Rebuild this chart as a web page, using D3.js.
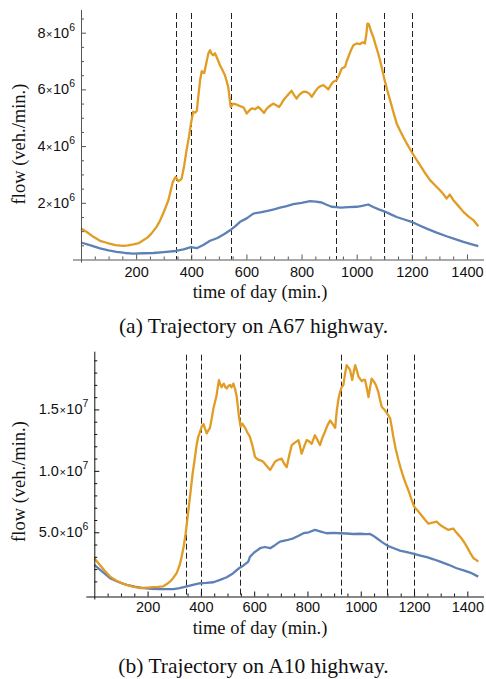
<!DOCTYPE html>
<html>
<head>
<meta charset="utf-8">
<script src="https://cdn.jsdelivr.net/npm/d3@7"></script>
<style>
  html, body { margin: 0; padding: 0; background: #fff; }
  svg { display: block; }
  .tick text { font-family: "Liberation Sans", Arial, sans-serif; }
</style>
</head>
<body>
<svg id="chart" width="486" height="679"></svg>
<script>
// ---- data (flow in millions of vehicles per minute, time in minutes) ----
const a67Total = [
  [0,1.09],[21,0.97],[45,0.80],[69,0.66],[93,0.59],[125,0.51],[153,0.48],[170,0.50],[190,0.53],
  [210,0.58],[226,0.68],[242,0.78],[256,0.92],[274,1.15],[286,1.36],[298,1.62],[317,2.09],[333,2.74],
  [343,2.91],[353,2.76],[360,2.80],[365,2.86],[374,3.30],[383,3.86],[392,4.35],[399,4.80],[407,5.21],
  [414,5.18],[420,5.24],[426,5.80],[432,6.32],[438,6.64],[447,6.58],[455,6.95],[462,7.27],[468,7.38],
  [474,7.25],[480,7.20],[486,7.28],[492,7.14],[498,7.00],[504,6.85],[512,6.70],[522,6.50],[528,6.30],
  [534,6.09],[540,5.60],[543,5.38],[552,5.50],[565,5.46],[577,5.41],[590,5.36],[601,5.15],[610,5.25],
  [619,5.33],[631,5.30],[643,5.38],[654,5.28],[664,5.17],[672,5.30],[680,5.38],[690,5.45],[697,5.50],
  [708,5.44],[719,5.38],[727,5.50],[734,5.62],[748,5.78],[764,5.95],[773,5.80],[782,5.68],[791,5.80],
  [800,5.88],[809,5.92],[818,5.91],[828,5.85],[837,5.74],[849,5.92],[861,6.07],[870,6.12],[879,6.15],
  [888,6.08],[897,6.00],[906,6.15],[915,6.27],[927,6.32],[936,6.50],[946,6.74],[958,6.80],[964,7.00],
  [970,7.15],[980,7.40],[988,7.56],[1000,7.62],[1012,7.60],[1022,7.66],[1030,7.62],[1035,7.95],
  [1039,8.32],[1044,8.30],[1052,8.05],[1060,7.85],[1069,7.55],[1078,7.27],[1089,6.85],[1100,6.38],
  [1110,6.00],[1121,5.62],[1133,5.20],[1145,4.80],[1157,4.55],[1169,4.32],[1184,4.05],[1199,3.80],
  [1215,3.55],[1230,3.33],[1248,3.05],[1266,2.80],[1284,2.62],[1302,2.44],[1315,2.30],[1326,2.15],
  [1338,2.29],[1350,2.10],[1368,1.90],[1387,1.68],[1405,1.52],[1423,1.39],[1441,1.17]
];
const a67Base = [
  [0,0.60],[35,0.50],[69,0.39],[100,0.32],[129,0.27],[160,0.23],[190,0.21],[226,0.22],[262,0.23],
  [300,0.26],[343,0.30],[372,0.36],[399,0.44],[420,0.40],[445,0.52],[468,0.66],[495,0.76],[520,0.90],
  [545,1.06],[560,1.18],[577,1.33],[601,1.45],[625,1.62],[650,1.66],[673,1.71],[700,1.77],[722,1.83],
  [746,1.88],[770,1.95],[800,2.00],[831,2.06],[852,2.04],[873,2.01],[891,1.93],[909,1.86],[926,1.85],
  [943,1.83],[970,1.85],[1000,1.86],[1020,1.89],[1042,1.94],[1060,1.85],[1080,1.77],[1100,1.70],
  [1122,1.60],[1145,1.50],[1170,1.42],[1199,1.33],[1226,1.21],[1254,1.09],[1290,0.95],[1326,0.82],
  [1357,0.72],[1387,0.62],[1415,0.54],[1441,0.47]
];
const a10Total = [
  [0,2.89],[21,2.34],[40,1.85],[59,1.39],[84,1.05],[109,0.80],[140,0.60],[172,0.45],[200,0.50],
  [221,0.53],[240,0.55],[259,0.60],[272,0.78],[284,0.98],[297,1.30],[309,1.67],[320,2.30],[328,3.02],
  [336,3.90],[343,4.92],[351,6.40],[359,7.89],[368,9.60],[378,11.15],[384,12.10],[390,12.77],
  [397,13.20],[403,13.59],[410,13.80],[416,13.40],[422,13.05],[428,13.30],[434,13.50],[441,14.30],
  [447,15.08],[453,15.60],[459,16.16],[464,16.90],[468,17.38],[473,17.00],[478,16.80],[482,17.00],
  [486,17.10],[492,16.80],[497,16.71],[503,16.90],[509,17.00],[515,16.80],[522,17.10],[528,16.70],
  [534,16.10],[539,15.20],[543,14.40],[549,13.60],[555,13.86],[566,13.50],[575,13.10],[584,12.77],
  [594,12.00],[603,11.15],[609,11.00],[616,10.90],[625,10.85],[634,10.74],[647,10.40],[660,10.07],
  [669,10.40],[678,10.74],[690,10.90],[703,11.00],[712,10.60],[722,10.30],[731,11.20],[741,12.10],
  [753,12.30],[766,12.50],[772,12.00],[778,11.40],[788,12.00],[797,12.50],[806,12.40],[816,12.20],
  [828,12.90],[838,12.50],[847,12.10],[856,12.70],[866,13.20],[875,13.70],[885,14.10],[895,13.80],
  [904,13.50],[910,14.90],[916,15.80],[922,16.40],[928,16.80],[935,17.00],[941,17.90],[947,18.60],
  [954,18.40],[960,18.20],[968,17.40],[974,18.10],[979,18.60],[985,18.20],[991,17.70],[997,17.50],
  [1004,17.30],[1010,17.40],[1016,17.40],[1022,16.80],[1029,16.00],[1035,16.80],[1041,17.50],
  [1048,17.30],[1054,17.10],[1060,16.80],[1066,16.40],[1072,15.80],[1079,15.20],[1088,15.00],
  [1098,14.70],[1104,14.50],[1110,14.30],[1116,13.60],[1122,12.80],[1131,11.80],[1141,10.90],
  [1150,10.20],[1160,9.50],[1170,8.90],[1179,8.40],[1190,7.70],[1200,7.10],[1212,6.80],[1223,6.50],
  [1238,6.10],[1254,5.70],[1270,5.78],[1285,5.86],[1295,5.65],[1304,5.50],[1316,5.35],[1329,5.19],
  [1338,5.25],[1347,5.30],[1360,4.95],[1373,4.64],[1386,4.25],[1398,3.83],[1410,3.35],[1423,2.89],
  [1433,2.75],[1441,2.61]
];
const a10Base = [
  [0,2.34],[30,1.80],[59,1.26],[90,0.95],[122,0.72],[152,0.58],[184,0.45],[215,0.40],[247,0.37],
  [275,0.37],[297,0.37],[320,0.45],[343,0.58],[370,0.72],[398,0.85],[420,0.88],[447,0.93],[472,1.12],
  [497,1.34],[520,1.65],[543,2.07],[560,2.30],[578,2.61],[584,3.00],[600,3.35],[622,3.70],[640,3.80],
  [660,3.70],[678,3.95],[697,4.24],[722,4.35],[747,4.51],[765,4.70],[785,4.92],[805,5.00],[828,5.19],
  [850,5.05],[872,4.92],[897,4.95],[922,4.92],[947,4.90],[972,4.86],[1000,4.88],[1020,4.84],
  [1035,4.86],[1048,4.70],[1060,4.51],[1080,4.20],[1101,3.89],[1124,3.70],[1147,3.51],[1173,3.38],
  [1200,3.24],[1224,3.10],[1248,2.97],[1273,2.80],[1298,2.61],[1330,2.35],[1360,2.07],[1386,1.90],
  [1411,1.72],[1441,1.39]
];

// time markers drawn as dashed verticals
const markers = [345, 400, 545, 925, 1100, 1200];

// axis ticks
const xMajor = [200, 400, 600, 800, 1000, 1200, 1400];
const xMinor = d3.range(50, 1441, 50).filter(v => v % 200 !== 0);
const a67YTicks = [[2, "2", "6"], [4, "4", "6"], [6, "6", "6"], [8, "8", "6"]];
const a67YMinor = d3.range(0.5, 8.8, 0.5).filter(v => v % 2 !== 0);
const a10YTicks = [[5, "5.0", "6"], [10, "1.0", "7"], [15, "1.5", "7"]];
const a10YMinor = d3.range(1, 20, 1).filter(v => v % 5 !== 0);

const colors = { total: "#E19C24", base: "#5E81B5" };

const svg = d3.select("#chart");

function panel(cfg) {
  const g = svg.append("g");
  const x = d3.scaleLinear().domain([0, 1440]).range([cfg.left, 478]);
  const y = d3.scaleLinear().domain(cfg.yDomain).range([cfg.bottom, cfg.top]);
  const zeroY = cfg.bottom;

  // dashed markers
  g.selectAll("line.marker").data(markers).join("line")
    .attr("class", "marker")
    .attr("x1", d => Math.round(x(d)) + 0.5).attr("x2", d => Math.round(x(d)) + 0.5)
    .attr("y1", cfg.top + 3).attr("y2", zeroY)
    .attr("stroke", "#222").attr("stroke-width", 1)
    .attr("stroke-dasharray", "6,3");

  // curves
  const line = d3.line().x(d => x(d[0])).y(d => y(d[1])).curve(d3.curveLinear);
  g.append("path").datum(cfg.base).attr("d", line)
    .attr("fill", "none").attr("stroke", colors.base).attr("stroke-width", 2.3)
    .attr("stroke-linejoin", "round");
  g.append("path").datum(cfg.total).attr("d", line)
    .attr("fill", "none").attr("stroke", colors.total).attr("stroke-width", 2.3)
    .attr("stroke-linejoin", "round");

  // x axis
  const xa = g.append("g").attr("transform", `translate(0,${zeroY})`);
  xa.call(d3.axisBottom(x).tickValues(xMajor).tickSize(-5).tickSizeOuter(0).tickPadding(cfg.xPad)
    .tickFormat(d3.format("d")));
  const xm = g.append("g").attr("transform", `translate(0,${zeroY})`);
  xm.call(d3.axisBottom(x).tickValues(xMinor).tickSize(-3).tickSizeOuter(0).tickFormat(""));
  xm.select(".domain").remove();
  xa.select(".domain").remove();
  [xa, xm].forEach(s => s.selectAll("line").attr("stroke", cfg.axisColor));
  xa.selectAll("text").attr("font-size", 14.5).attr("fill", "#111");
  g.append("line").attr("x1", cfg.left - 8).attr("x2", 484)
    .attr("y1", zeroY + 0.5).attr("y2", zeroY + 0.5)
    .attr("stroke", cfg.axisColor).attr("stroke-width", 1);

  // y axis
  const ya = g.append("g").attr("transform", `translate(${cfg.left},0)`);
  ya.call(d3.axisLeft(y).tickValues(cfg.yTicks.map(d => d[0])).tickSize(-5).tickSizeOuter(0)
    .tickFormat(""));
  const ym = g.append("g").attr("transform", `translate(${cfg.left},0)`);
  ym.call(d3.axisLeft(y).tickValues(cfg.yMinor).tickSize(-3).tickSizeOuter(0).tickFormat(""));
  ya.select(".domain").remove(); ym.select(".domain").remove();
  [ya, ym].forEach(s => s.selectAll("line").attr("stroke", cfg.axisColor));
  g.append("line").attr("x1", cfg.left + 0.5).attr("x2", cfg.left + 0.5)
    .attr("y1", cfg.top).attr("y2", zeroY + 3)
    .attr("stroke", cfg.axisColor).attr("stroke-width", 1);

  // y tick labels in scientific notation
  const lab = g.selectAll("text.ylab").data(cfg.yTicks).join("text")
    .attr("class", "ylab")
    .attr("x", cfg.left - 6).attr("y", d => y(d[0]) + 5)
    .attr("text-anchor", "end")
    .attr("font-family", "Liberation Sans, Arial, sans-serif")
    .attr("font-size", 14.5).attr("fill", "#111");
  lab.append("tspan").text(d => d[1]);
  lab.append("tspan").text("\u00d7").attr("font-size", 11).attr("dx", 0.5);
  lab.append("tspan").text("10").attr("dx", 0.5);
  lab.append("tspan").text(d => d[2]).attr("font-size", 10.5).attr("dy", -7);

  // axis titles
  g.append("text").attr("x", 260).attr("y", cfg.bottomLabelY)
    .attr("text-anchor", "middle")
    .attr("font-family", "Liberation Serif, Times New Roman, serif")
    .attr("font-size", 18.5).attr("fill", "#111")
    .text("time of day (min.)");
  g.append("text")
    .attr("transform", `translate(25,${cfg.leftLabelY}) rotate(-90)`)
    .attr("text-anchor", "middle")
    .attr("font-family", "Liberation Serif, Times New Roman, serif")
    .attr("font-size", 18.5).attr("fill", "#111")
    .text("flow (veh./min.)");

  // caption
  svg.append("text").attr("x", 253.5).attr("y", cfg.captionY)
    .attr("text-anchor", "middle")
    .attr("font-family", "Liberation Serif, Times New Roman, serif")
    .attr("font-size", 21.5).attr("fill", "#111")
    .text(cfg.caption);
}

panel({
  left: 81, top: 10, bottom: 259.5, yDomain: [0, 8.8],
  total: a67Total, base: a67Base, yTicks: a67YTicks, yMinor: a67YMinor,
  axisColor: "#555", bottomLabelY: 297.5, leftLabelY: 144, xPad: 7,
  captionY: 333, caption: "(a) Trajectory on A67 highway."
});
panel({
  left: 94.3, top: 351.7, bottom: 596.5, yDomain: [-0.23, 19.7],
  total: a10Total, base: a10Base, yTicks: a10YTicks, yMinor: a10YMinor,
  axisColor: "#111", bottomLabelY: 634, leftLabelY: 481.5, xPad: 5.5,
  captionY: 673, caption: "(b) Trajectory on A10 highway."
});
</script>
</body>
</html>
